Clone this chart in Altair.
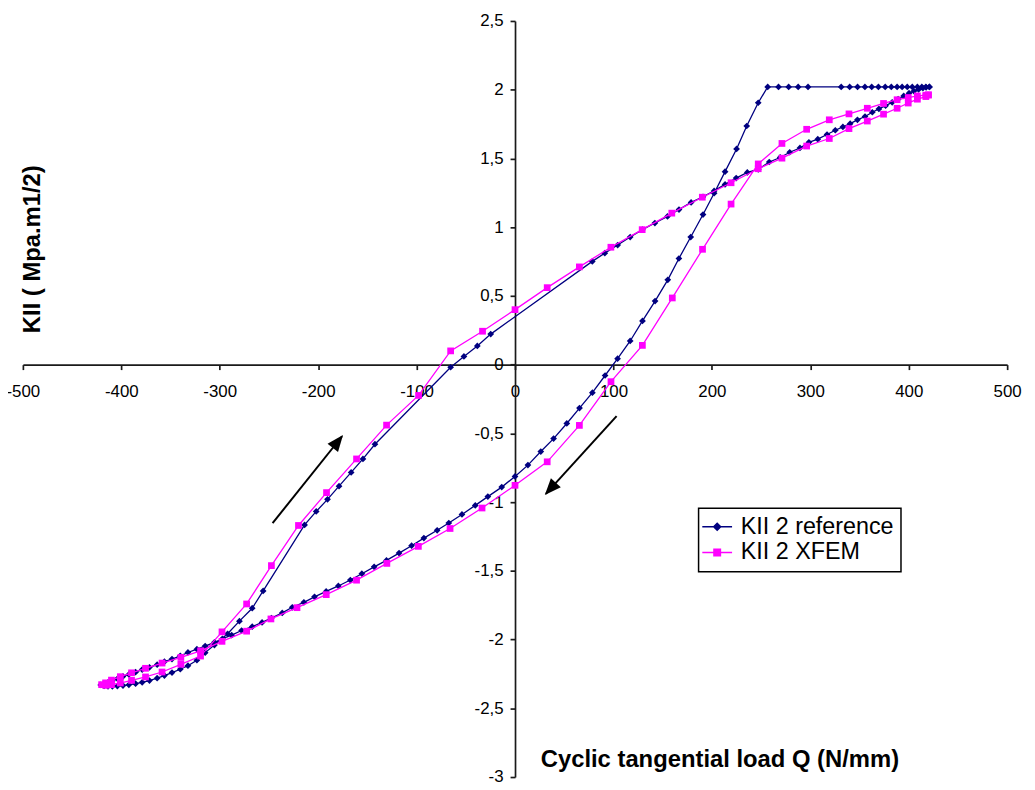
import math
import altair as alt
import pandas as pd

# ---------------- data ----------------
series_names = ["KII 2 reference", "KII 2 XFEM"]
series_colors = ["#000080", "#FF00FF"]

# KII 2 reference : closed loop, starts at Q max, unloading then reloading
ref_q = [
    420.9, 417.4, 413.3, 408.8, 403.6, 398.5, 393.3, 388.2, 382.3, 376.1, 369.2, 362.4, 355.5, 348.0, 340.0, 331.4,
    297.7, 287.7, 278.0, 267.7, 256.7,
    247.1, 235.4, 225.1, 213.4, 202.3, 191.0, 178.5, 166.5, 155.2, 142.3, 129.5, 117.0, 104.2, 91.5, 78.6, 65.5,
    52.6, 39.2, 26.2, 13.1, 0.0, -13.5, -27.6, -40.4, -53.9, -67.3, -79.1, -92.6, -105.1, -117.8, -130.6, -143.1,
    -155.6, -167.3, -179.5, -191.9, -203.7, -214.5, -226.3, -236.5, -247.5, -257.0, -267.0, -277.8, -287.9, -297.3,
    -305.4, -314.8, -323.2, -332.3, -340.1, -348.5, -356.2, -363.6, -371.4, -378.8, -385.5, -392.3, -398.3, -404.0,
    -409.1, -413.5, -417.5, -420.9,
    -417.5, -413.5, -409.1, -404.0, -398.3, -392.3, -385.5, -378.8, -371.4, -363.6, -356.2, -348.5, -340.1, -332.3,
    -323.2, -314.8, -305.4, -292.0, -280.0, -267.0, -255.9,
    -213.8, -202.0, -190.5, -178.8, -166.5, -154.5, -142.3,
    -65.4, -51.9, -38.3, -24.7,
    78.5, 91.2, 104.3, 117.0, 129.4, 142.1, 154.9, 166.6, 178.9, 191.0, 202.3, 213.4, 224.7, 236.0, 247.1, 258.3,
    269.4, 279.1, 289.5, 298.6, 307.6, 317.0, 325.4, 333.1, 340.5, 347.9, 355.6, 363.0, 369.7, 376.5, 383.2, 389.2,
    394.9, 400.3, 405.3, 410.0, 414.4, 417.7, 421.1,
]
ref_k = [
    2.02, 2.02, 2.02, 2.02, 2.02, 2.02, 2.02, 2.02, 2.02, 2.02, 2.02, 2.02, 2.02, 2.02, 2.02, 2.02,
    2.02, 2.02, 2.02, 2.02, 2.02,
    1.905, 1.736, 1.569, 1.404, 1.247, 1.092, 0.928, 0.772, 0.617, 0.462, 0.318, 0.172, 0.043, -0.079, -0.204, -0.316,
    -0.428, -0.538, -0.632, -0.731, -0.813, -0.891, -0.960, -1.024, -1.090, -1.152, -1.205, -1.262, -1.317, -1.371,
    -1.424, -1.471, -1.521, -1.567, -1.610, -1.650, -1.689, -1.729, -1.765, -1.806, -1.844, -1.875, -1.906, -1.934,
    -1.968, -1.994, -2.020, -2.047, -2.070, -2.094, -2.118, -2.142, -2.161, -2.183, -2.202, -2.218, -2.237, -2.254,
    -2.268, -2.285, -2.300, -2.311, -2.321, -2.330,
    -2.337, -2.340, -2.340, -2.338, -2.335, -2.329, -2.321, -2.311, -2.298, -2.281, -2.262, -2.240, -2.216, -2.190,
    -2.150, -2.095, -2.040, -1.958, -1.866, -1.772, -1.646,
    -1.166, -1.068, -0.980, -0.884, -0.784, -0.686, -0.579,
    -0.019, 0.060, 0.136, 0.222,
    0.751, 0.811, 0.870, 0.928, 0.982, 1.030, 1.078, 1.128, 1.180, 1.221, 1.264, 1.311, 1.357, 1.398, 1.420, 1.474,
    1.507, 1.545, 1.576, 1.617, 1.640, 1.674, 1.705, 1.729, 1.753, 1.781, 1.805, 1.836, 1.860, 1.884, 1.908, 1.931,
    1.955, 1.975, 1.990, 2.002, 2.012, 2.017, 2.020,
]

# KII 2 XFEM : closed loop, same direction
xfem_q = [
    420.0, 417.4, 408.8, 399.5, 388.2, 374.4, 357.9, 339.3, 319.3, 296.3, 271.2, 247.1, 219.5, 190.5, 159.8, 129.4,
    97.5, 65.4, 32.7, 0.0, -33.5, -66.0, -98.2, -130.2, -161.0, -191.8, -221.5, -248.0, -272.7, -297.7, -319.5,
    -339.5, -358.6, -375.4, -389.6, -401.0, -410.0, -416.0, -420.0,
    -416.0, -410.0, -401.0, -389.6, -375.4, -358.6, -339.5, -319.5, -297.7, -272.7, -247.5, -220.0, -191.5, -161.0,
    -130.5, -98.0, -65.4, -33.0, 0.0, 32.7, 65.4, 97.4, 129.2, 159.3, 190.3, 219.5, 247.1, 271.2, 296.3, 319.3,
    339.3, 357.9, 374.4, 388.2, 399.5, 408.8, 417.4, 420.0,
]
xfem_k = [
    1.962, 1.960, 1.955, 1.943, 1.927, 1.900, 1.865, 1.824, 1.781, 1.712, 1.609, 1.460, 1.168, 0.839, 0.485, 0.140,
    -0.124, -0.442, -0.707, -0.878, -1.043, -1.192, -1.322, -1.446, -1.568, -1.673, -1.768, -1.850, -1.939, -2.013,
    -2.082, -2.130, -2.171, -2.209, -2.242, -2.270, -2.295, -2.315, -2.328,
    -2.333, -2.328, -2.316, -2.297, -2.272, -2.236, -2.180, -2.120, -1.944, -1.741, -1.462, -1.170, -0.931, -0.686,
    -0.440, -0.224, 0.100, 0.243, 0.400, 0.560, 0.711, 0.854, 0.982, 1.102, 1.218, 1.323, 1.425, 1.502, 1.590, 1.645,
    1.717, 1.772, 1.822, 1.865, 1.903, 1.931, 1.950, 1.962,
]

# annotation arrows (start -> tip), in data units
arrow_q0 = [-246.3, 103.2]
arrow_k0 = [-1.153, -0.375]
arrow_q1 = [-175.7, 31.3]
arrow_k1 = [-0.521, -0.940]

x_ticks = [-500, -400, -300, -200, -100, 0, 100, 200, 300, 400, 500]
y_ticks = [-3, -2.5, -2, -1.5, -1, -0.5, 0, 0.5, 1, 1.5, 2, 2.5]

x_title = "Cyclic tangential load Q (N/mm)"
y_title = "KII ( Mpa.m1/2)"

# ---------------- layout ----------------
FONT = "Liberation Sans"
PAD_L, PAD_T = 15, 10
W, H = 992, 762
X_DOM = [-500, 500]
Y_DOM = [-3, 2.5]
px_x = W / (X_DOM[1] - X_DOM[0])
px_y = H / (Y_DOM[1] - Y_DOM[0])
y0_from_top = (Y_DOM[1] - 0) * px_y        # pixel row of K = 0
x0_from_left = (0 - X_DOM[0]) * px_x       # pixel column of Q = 0
plot_left_page = 8 + PAD_L
plot_top_page = 8 + PAD_T

ref_df = pd.DataFrame({"q": ref_q, "k": ref_k, "i": list(range(len(ref_q)))})
xfem_df = pd.DataFrame({"q": xfem_q, "k": xfem_k, "i": list(range(len(xfem_q)))})

angles = []
for a, b, c, d in zip(arrow_q0, arrow_k0, arrow_q1, arrow_k1):
    dxp = (c - a) * px_x
    dyp = -(d - b) * px_y
    angles.append((math.degrees(math.atan2(dxp, -dyp)) + 360) % 360)
arrow_df = pd.DataFrame({"q0": arrow_q0, "k0": arrow_k0, "q1": arrow_q1, "k1": arrow_k1, "angle": angles})

label_expr = "replace(toString(datum.value), '.', ',')"
axis_common = dict(
    grid=False, tickSize=5, tickWidth=1.7, tickColor="#1a1a1a", domainColor="#1a1a1a", domainWidth=1.7,
    labelFont=FONT, labelFontSize=17, labelColor="black", labelExpr=label_expr,
    labelFlush=False, labelOverlap=False,
    titleFont=FONT, titleFontSize=24, titleFontWeight="bold", titleColor="black",
    titleAlign="center", titleBaseline="middle",
)

x_enc = alt.X(
    "q:Q",
    scale=alt.Scale(domain=X_DOM, nice=False, zero=False),
    axis=alt.Axis(values=x_ticks, offset=-(H - y0_from_top), labelPadding=14, title=x_title,
                  titleX=725 - plot_left_page, titleY=762 - (plot_top_page + y0_from_top), titleAngle=0,
                  **axis_common),
)
y_enc = alt.Y(
    "k:Q",
    scale=alt.Scale(domain=Y_DOM, nice=False, zero=False),
    axis=alt.Axis(values=y_ticks, offset=-x0_from_left, labelPadding=7, title=y_title,
                  titleX=33 - (plot_left_page + x0_from_left), titleY=247.5 - plot_top_page, titleAngle=-90,
                  **axis_common),
)
x_plain = alt.X("q:Q", scale=alt.Scale(domain=X_DOM, nice=False, zero=False))
y_plain = alt.Y("k:Q", scale=alt.Scale(domain=Y_DOM, nice=False, zero=False))

ref_line = alt.Chart(ref_df).mark_line(color=series_colors[0], strokeWidth=1.3).encode(
    x=x_enc, y=y_enc, order=alt.Order("i:Q"))
ref_pts = alt.Chart(ref_df).mark_point(shape="diamond", filled=True, color=series_colors[0], size=46, opacity=1).encode(
    x=x_plain, y=y_plain)
xfem_line = alt.Chart(xfem_df).mark_line(color=series_colors[1], strokeWidth=1.3).encode(
    x=x_plain, y=y_plain, order=alt.Order("i:Q"))
xfem_pts = alt.Chart(xfem_df).mark_point(shape="square", filled=True, color=series_colors[1], size=46, opacity=1).encode(
    x=x_plain, y=y_plain)

shaft = alt.Chart(arrow_df).mark_rule(color="black", strokeWidth=2).encode(
    x=alt.X("q0:Q", scale=alt.Scale(domain=X_DOM, nice=False, zero=False)),
    y=alt.Y("k0:Q", scale=alt.Scale(domain=Y_DOM, nice=False, zero=False)),
    x2="q1:Q", y2="k1:Q")
head = alt.Chart(arrow_df).mark_point(
    shape="M0,-0.1L0.45,1L-0.45,1Z", filled=True, color="black", size=900, opacity=1, strokeWidth=0
).encode(
    x=alt.X("q1:Q", scale=alt.Scale(domain=X_DOM, nice=False, zero=False)),
    y=alt.Y("k1:Q", scale=alt.Scale(domain=Y_DOM, nice=False, zero=False)),
    angle=alt.Angle("angle:Q", scale=None))

# legend (line + marker symbols), drawn by the library's legend
legend_shapes = [
    "M-1.5,0H1.5M0,-0.36L0.36,0L0,0.36L-0.36,0Z",
    "M-1.5,0H1.5M-0.33,-0.33H0.33V0.33H-0.33Z",
]
leg = alt.Legend(title=None, orient="none", legendX=701 - plot_left_page + 3, legendY=509 - plot_top_page,
                 padding=7, rowPadding=1,
                 labelFont=FONT, labelFontSize=23.5, labelColor="black", labelOffset=12, labelLimit=400,
                 symbolSize=400, symbolStrokeWidth=1.4, symbolOpacity=1,
                 strokeColor="black", fillColor="white")
legend_df = pd.DataFrame({"series": series_names, "q": [0.0, 0.0], "k": [0.0, 0.0]})
legend_layer = alt.Chart(legend_df).mark_point(filled=True, opacity=1).encode(
    x=x_plain, y=y_plain,
    fill=alt.Fill("series:N", scale=alt.Scale(domain=series_names, range=series_colors), legend=leg),
    stroke=alt.Stroke("series:N", scale=alt.Scale(domain=series_names, range=series_colors), legend=leg),
    shape=alt.Shape("series:N", scale=alt.Scale(domain=series_names, range=legend_shapes), legend=leg),
).transform_filter("false")

chart = alt.layer(ref_line, ref_pts, xfem_line, xfem_pts, shaft, head, legend_layer).properties(
    width=W, height=H,
    autosize=alt.AutoSizeParams(type="none"),
    padding={"left": PAD_L, "top": PAD_T, "right": 20, "bottom": 10},
    background="white",
).configure_view(stroke=None).configure_legend(strokeWidth=1.5)

chart.save("out.html", embed_options={"renderer": "svg", "actions": False})
